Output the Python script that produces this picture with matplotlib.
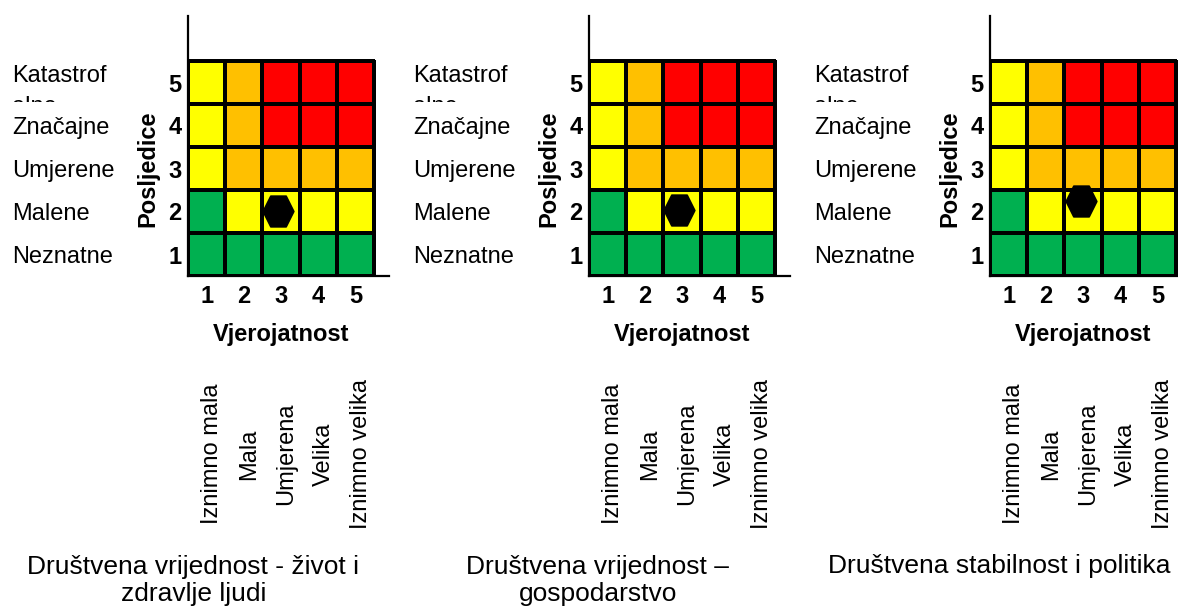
import numpy as np
import matplotlib.pyplot as plt
from matplotlib.colors import ListedColormap
from matplotlib.patches import Rectangle

plt.rcParams["font.family"] = ["Liberation Sans", "DejaVu Sans"]

# data
likelihood = [1, 2, 3, 4, 5]
consequence = [1, 2, 3, 4, 5]
likelihood_labels = ["Iznimno mala", "Mala", "Umjerena", "Velika", "Iznimno velika"]
consequence_labels = ["Neznatne", "Malene", "Umjerene", "Značajne", "Katastrof\nalne"]

# risk level per cell: rows = consequence 1..5, cols = likelihood 1..5
# 0 = low (green), 1 = medium (yellow), 2 = high (orange), 3 = extreme (red)
risk_levels = np.array([
    [0, 0, 0, 0, 0],
    [0, 1, 1, 1, 1],
    [1, 2, 2, 2, 2],
    [1, 2, 3, 3, 3],
    [1, 2, 3, 3, 3],
])
risk_colors = ["#00B050", "#FFFF00", "#FFC000", "#FF0000"]

panel_titles = [
    "Društvena vrijednost - život i\nzdravlje ljudi",
    "Društvena vrijednost –\ngospodarstvo",
    "Društvena stabilnost i politika",
]
point_likelihood = [2.91, 2.92, 2.95]
point_consequence = [2.02, 2.03, 2.25]

W, H = 1178, 607
fig = plt.figure(figsize=(W / 100, H / 100), dpi=100)

cell_w, cell_h = 37.2, 43.0
ax_w_px, ax_h_px = 201, 260
title_x = [0.64, 0.74, 0.74]

hexagon = [(-1, 0), (-0.5, 1), (0.5, 1), (1, 0), (0.5, -1), (-0.5, -1), (-1, 0)]
cmap = ListedColormap(risk_colors)

for i in range(3):
    left_px = 188 + 401 * i
    ax = fig.add_axes([left_px / W, (H - 276) / H, ax_w_px / W, ax_h_px / H])

    x_edges = np.append(np.array(likelihood) - 0.5, likelihood[-1] + 0.5)
    y_edges = np.append(np.array(consequence) - 0.5, consequence[-1] + 0.5)
    ax.pcolormesh(x_edges, y_edges, risk_levels, cmap=cmap, vmin=-0.5, vmax=3.5,
                  edgecolors="black", linewidth=1.7)

    ax.plot(point_likelihood[i], point_consequence[i], marker=hexagon, markersize=22.3,
            color="black", linestyle="none", zorder=5)

    ax.set_xlim(0.5, 0.5 + ax_w_px / cell_w)
    ax.set_ylim(0.5, 0.5 + ax_h_px / cell_h)
    for side in ["top", "right"]:
        ax.spines[side].set_visible(False)
    for side in ["left", "bottom"]:
        ax.spines[side].set_linewidth(1.6)
        ax.spines[side].set_zorder(6)

    ax.set_xticks(likelihood)
    ax.set_xticklabels([str(v) for v in likelihood], fontsize=17, fontweight="bold")
    ax.set_yticks(consequence)
    ax.set_yticklabels([str(v) for v in consequence], fontsize=17, fontweight="bold")
    ax.tick_params(axis="x", length=0, pad=6.5)
    ax.tick_params(axis="y", length=0, pad=4.5)

    # category names for consequences (long one wraps and is cut off by its cell)
    clip = Rectangle((-6, 4.547), 6.5, 3, transform=ax.transData, visible=False)
    ax.add_patch(clip)
    for c, lab in zip(consequence, consequence_labels):
        if "\n" in lab:
            t = ax.text(0.5 - 176 / cell_w, c + 0.40, lab, fontsize=17, ha="left",
                        va="top", linespacing=1.5, clip_on=True)
            t.set_clip_path(clip)
        else:
            ax.text(0.5 - 176 / cell_w, c, lab, fontsize=17, ha="left",
                    va="center_baseline", clip_on=False)

    ax.text(-0.59, 3.0, "Posljedice", fontsize=17, fontweight="bold", rotation=90,
            ha="center", va="center", clip_on=False)
    ax.text(3.0, -0.87, "Vjerojatnost", fontsize=17, fontweight="bold",
            ha="center", va="center", clip_on=False)

    for x, lab in zip(likelihood, likelihood_labels):
        ax.text(x + 0.15, -3.64, lab, fontsize=17, rotation=90,
                ha="center", va="center", clip_on=False)

    n_lines = panel_titles[i].count("\n")
    ax.text(title_x[i], -6.407 - n_lines * 28 / cell_h, panel_titles[i], fontsize=19,
            ha="center", va="baseline", linespacing=1.16, clip_on=False)

fig.savefig("out.png", dpi=100)
